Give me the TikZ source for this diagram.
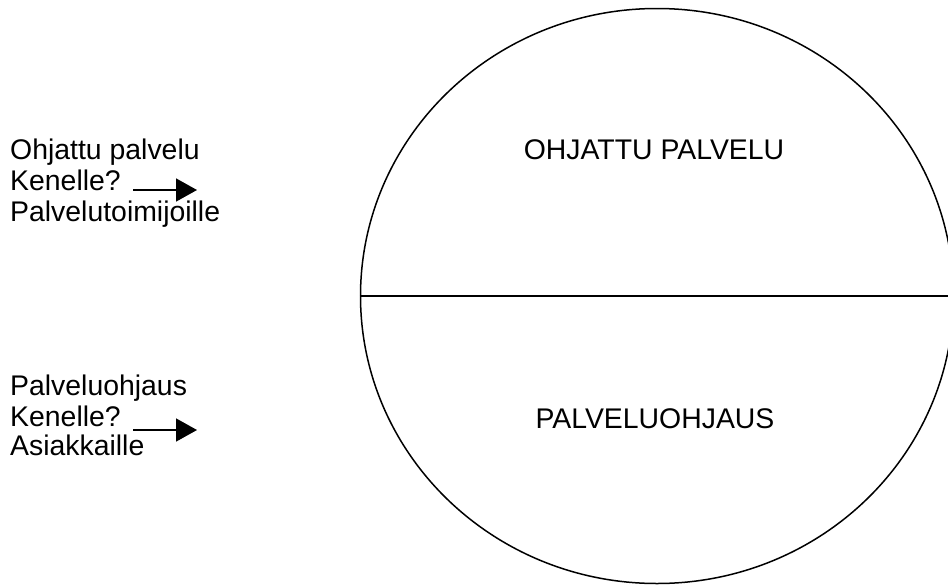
\documentclass[tikz,border=0pt]{standalone}
\usepackage{fontspec}
\setmainfont{Liberation Sans}
\usepackage{tikz}
\usetikzlibrary{shapes.geometric, arrows.meta, positioning}

\begin{document}
\begin{tikzpicture}[x=1pt,y=-1pt,
    txt/.style={font=\fontsize{28.4}{31}\selectfont, inner sep=0pt},
    pointer/.style={line width=1.6pt, -{Triangle[length=21pt,width=23pt]}}]
        \clip (0,0) rectangle (948,584);
        % the big circle, split in two
        \node[draw, ellipse, line width=1.5pt, inner sep=0pt,
              minimum width=593pt, minimum height=575pt] (circ) at (657,296) {};
        \draw[line width=1.5pt] (circ.west) -- (circ.east);
        \node[txt, anchor=base] (top) at (654,159) {OHJATTU PALVELU};
        \node[txt, anchor=base] (bottom) at (655,428) {PALVELUOHJAUS};
        \begin{scope}[every node/.style={txt, anchor=base west}]
          \node (oh1) at (10,159) {Ohjattu palvelu};
          \node (ke1) at (10,190) {Kenelle?};
          \node (pa1) at (10,221) {Palvelutoimijoille};
          \node (oh2) at (10,395) {Palveluohjaus};
          \node (ke2) at (10,426) {Kenelle?};
          \node (as2) at (10,455) {Asiakkaille};
        \end{scope}
        \coordinate (from1) at (133,190);
        \coordinate (to1) at (197,190);
        \coordinate (from2) at (133,430);
        \coordinate (to2) at (197,430);
        \draw[pointer] (from1) -- (to1);
        \draw[pointer] (from2) -- (to2);
      \end{tikzpicture}
\end{document}
